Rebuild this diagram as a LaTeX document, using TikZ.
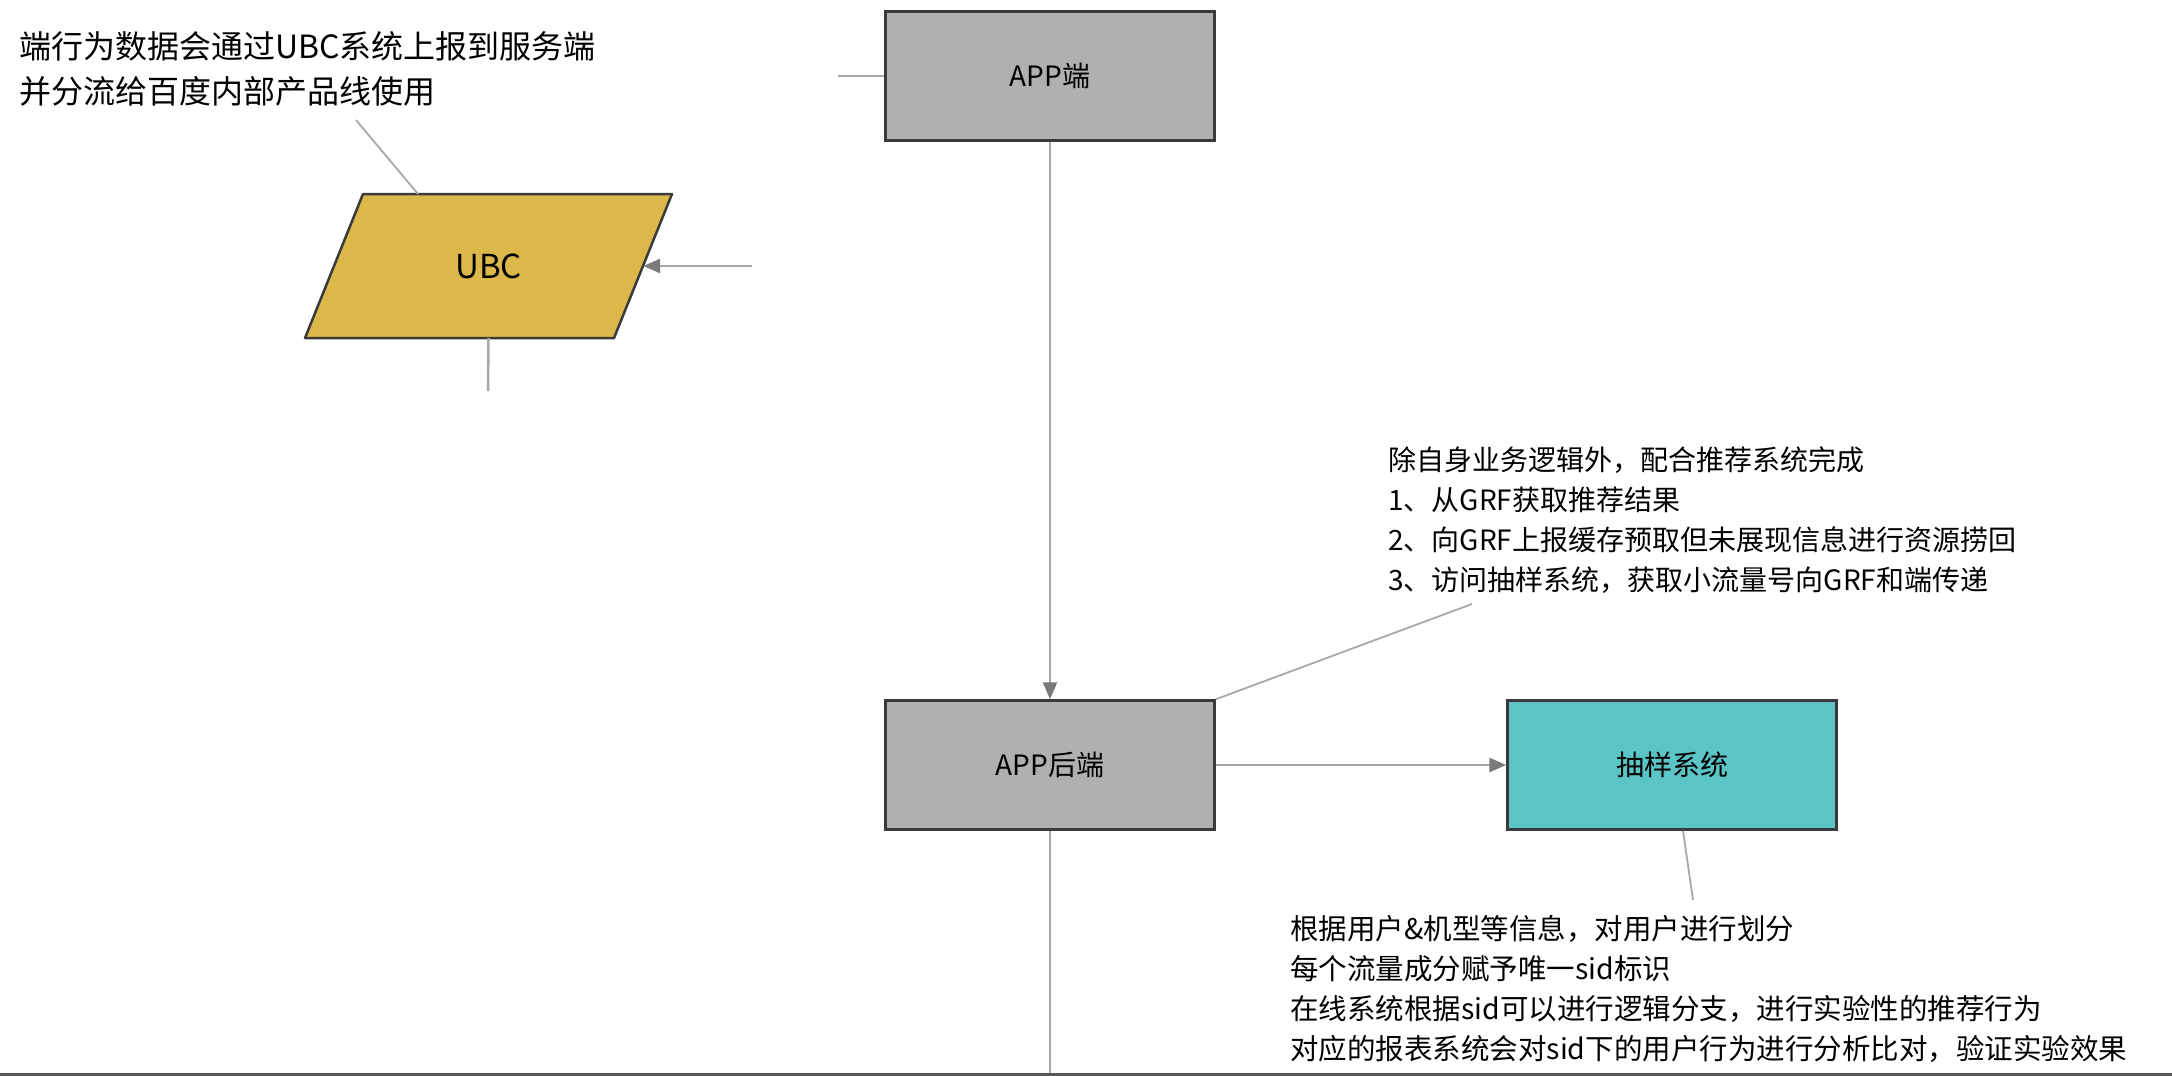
\documentclass[tikz,border=0pt]{standalone}
\usepackage{fontspec}
\setmainfont{Noto Sans CJK SC}
\usetikzlibrary{arrows.meta}
\definecolor{boxgray}{HTML}{B0B0B0}
\definecolor{boxedge}{HTML}{3A3A3A}
\definecolor{ubcgold}{HTML}{DCB84B}
\definecolor{sampteal}{HTML}{5BC4C4}
\definecolor{linkgray}{HTML}{A8A8A8}
\definecolor{tipgray}{HTML}{7A7A7A}
\begin{document}
\begin{tikzpicture}[x=1pt,y=-1pt,
    block/.style={draw=boxedge,line width=2.5pt,fill=boxgray,minimum width=329pt,minimum height=129pt,inner sep=0pt,font=\fontsize{28}{32}\selectfont},
    link/.style={draw=linkgray,line width=2.5pt},
    flow/.style={link,-{Triangle[length=17pt,width=14pt,color=tipgray]}},
    memoline/.style={draw=linkgray,line width=1.8pt},
    memo/.style={align=left,inner sep=0pt,anchor=west}]
        \useasboundingbox (0,0) rectangle (2172,1076);
        %parallelogram behind the UBC node
        \filldraw[draw=boxedge,line width=2.5pt,fill=ubcgold,line join=round]
            (305,338) -- (363,194) -- (672,194) -- (614,338) -- cycle;
        %boxes
        \node[block] (app) at (1050,76) {APP端};
        \node[block] (backend) at (1050,765) {APP后端};
        \node[block,fill=sampteal] (sampling) at (1672,765) {抽样系统};
        \node[minimum width=309pt,minimum height=144pt,inner sep=0pt,font=\fontsize{33}{36}\selectfont] (ubc) at (488.5,266) {UBC};
        %notes
        \node[memo,font=\fontsize{32}{45}\selectfont] (ubcnote) at (19,68.5)
            {端行为数据会通过UBC系统上报到服务端\\并分流给百度内部产品线使用};
        \node[memo,font=\fontsize{28}{40}\selectfont] (backnote) at (1388,520.5)
            {除自身业务逻辑外，配合推荐系统完成\\1、从GRF获取推荐结果\\2、向GRF上报缓存预取但未展现信息进行资源捞回\\3、访问抽样系统，获取小流量号向GRF和端传递};
        \node[memo,font=\fontsize{28.5}{40}\selectfont] (sampnote) at (1290,989)
            {根据用户\&机型等信息，对用户进行划分\\每个流量成分赋予唯一sid标识\\在线系统根据sid可以进行逻辑分支，进行实验性的推荐行为\\对应的报表系统会对sid下的用户行为进行分析比对，验证实验效果};
        %loose ends
        \coordinate (appin) at (838,76);
        \coordinate (ubcin) at (752,266);
        \coordinate (ubcout) at (488,391);
        \coordinate (backout) at (1050,1076);
        \coordinate (ubctail) at (356,120);
        \coordinate (ubchead) at (418,194);
        \coordinate (backtail) at (1472,604);
        \coordinate (samptail) at (1693,900);
        %connectors
        \draw[link] (appin) -- (app.west);
        \draw[flow] (app.south) -- (backend.north);
        \draw[flow] (backend.east) -- (sampling.west);
        \draw[link] (backend.south) -- (backout);
        \draw[flow] (ubcin) -- (ubc.east);
        \draw[link] (ubc.south) -- (ubcout);
        \draw[memoline] (ubctail) -- (ubchead);
        \draw[memoline] (backtail) -- (backend.north east);
        \draw[memoline] ([xshift=11pt]sampling.south) -- (samptail);
        %frame edge
        \draw[black!65,line width=3pt] (0,1074.5) -- (2172,1074.5);
\end{tikzpicture}
\end{document}
